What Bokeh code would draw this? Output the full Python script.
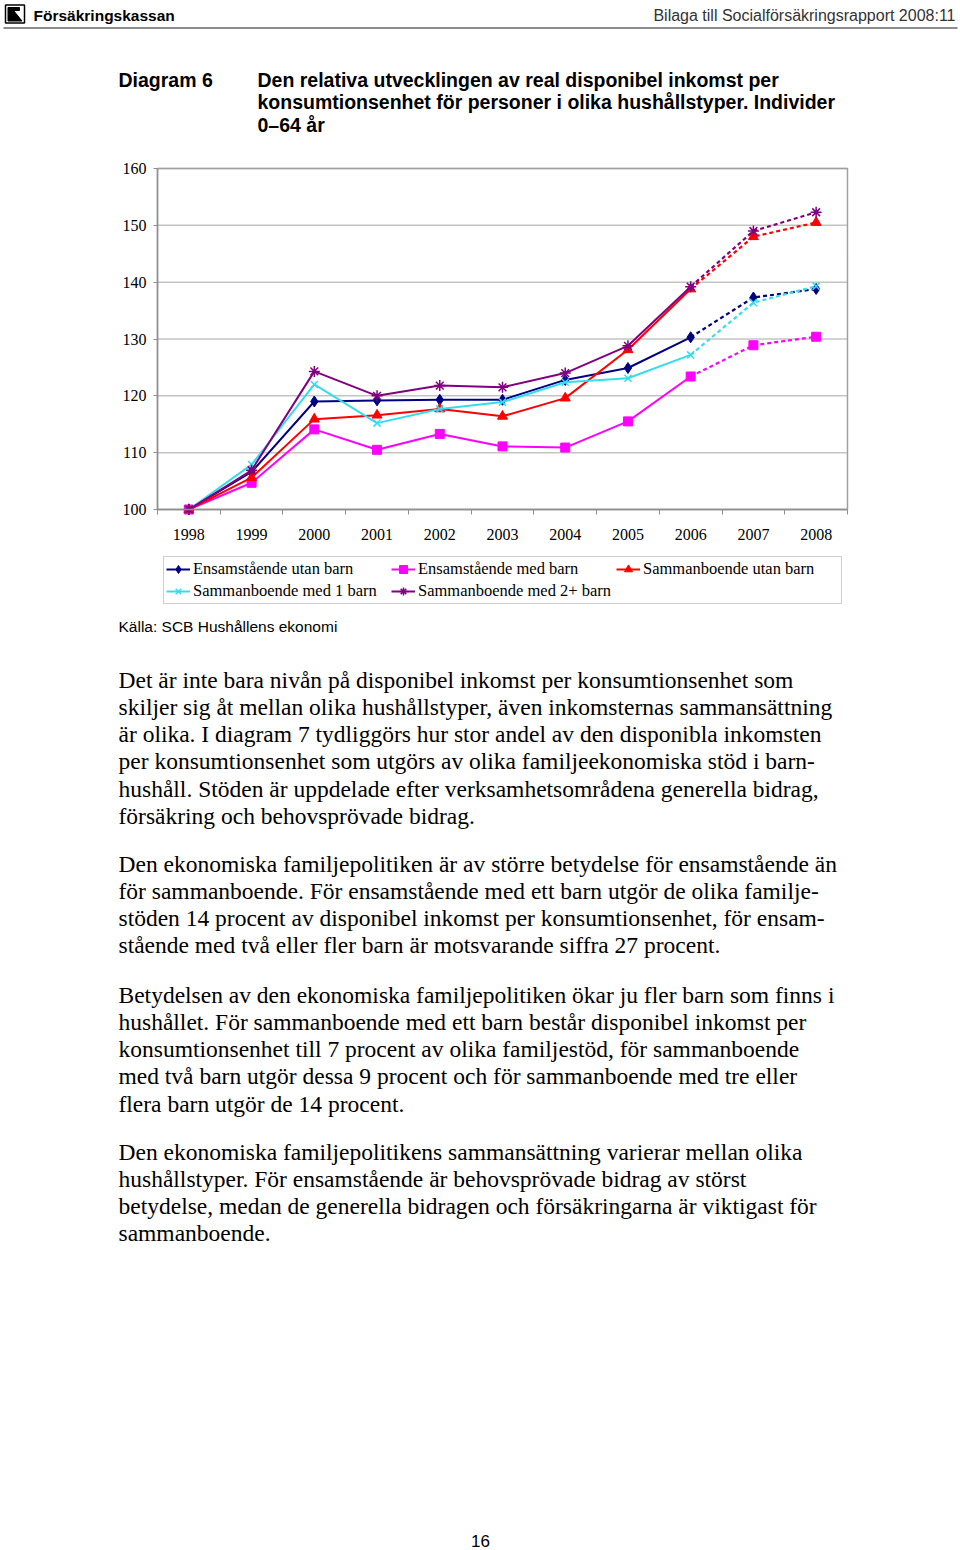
from bokeh.plotting import figure
from bokeh.models import Range1d, FixedTicker, Legend, LegendItem, LinearAxis
from bokeh.embed import file_html
from bokeh.resources import INLINE
from bokeh.core.properties import value

# ---------------- data ----------------
years = [1998, 1999, 2000, 2001, 2002, 2003, 2004, 2005, 2006, 2007, 2008]
ens_utan_barn = [100, 106.6, 119.0, 119.2, 119.3, 119.3, 122.8, 124.9, 130.3, 137.3, 138.8]
ens_med_barn = [100, 104.7, 114.1, 110.5, 113.3, 111.1, 110.9, 115.5, 123.4, 128.9, 130.4]
samm_utan_barn = [100, 105.6, 115.9, 116.6, 117.7, 116.4, 119.6, 128.1, 138.8, 148.0, 150.5]
samm_1_barn = [100, 107.9, 122.0, 115.2, 117.7, 118.9, 122.4, 123.1, 127.2, 136.4, 139.3]
samm_2_barn = [100, 106.9, 124.3, 120.0, 121.8, 121.5, 124.0, 128.8, 139.2, 149.0, 152.3]
series_names = ["Ensamstående utan barn", "Ensamstående med barn", "Sammanboende utan barn",
                "Sammanboende med 1 barn", "Sammanboende med 2+ barn"]
y_ticks = [100, 110, 120, 130, 140, 150, 160]
last_observed_year = 2006

header_left = "Försäkringskassan"
header_right = "Bilaga till Socialförsäkringsrapport 2008:11"
diagram_label = "Diagram 6"
title_lines = ["Den relativa utvecklingen av real disponibel inkomst per",
               "konsumtionsenhet för personer i olika hushållstyper. Individer",
               "0–64 år"]
source_text = "Källa: SCB Hushållens ekonomi"
paragraphs = [
    ["Det är inte bara nivån på disponibel inkomst per konsumtionsenhet som",
     "skiljer sig åt mellan olika hushållstyper, även inkomsternas sammansättning",
     "är olika. I diagram 7 tydliggörs hur stor andel av den disponibla inkomsten",
     "per konsumtionsenhet som utgörs av olika familjeekonomiska stöd i barn-",
     "hushåll. Stöden är uppdelade efter verksamhetsområdena generella bidrag,",
     "försäkring och behovsprövade bidrag."],
    ["Den ekonomiska familjepolitiken är av större betydelse för ensamstående än",
     "för sammanboende. För ensamstående med ett barn utgör de olika familje-",
     "stöden 14 procent av disponibel inkomst per konsumtionsenhet, för ensam-",
     "stående med två eller fler barn är motsvarande siffra 27 procent."],
    ["Betydelsen av den ekonomiska familjepolitiken ökar ju fler barn som finns i",
     "hushållet. För sammanboende med ett barn består disponibel inkomst per",
     "konsumtionsenhet till 7 procent av olika familjestöd, för sammanboende",
     "med två barn utgör dessa 9 procent och för sammanboende med tre eller",
     "flera barn utgör de 14 procent."],
    ["Den ekonomiska familjepolitikens sammansättning varierar mellan olika",
     "hushållstyper. För ensamstående är behovsprövade bidrag av störst",
     "betydelse, medan de generella bidragen och försäkringarna är viktigast för",
     "sammanboende."],
]
page_number = "16"

SANS = value("Liberation Sans")
SERIF = value("Liberation Serif")
W, H = 960, 1550

# chart area on the page (pixels)
CL, CR, CT, CB = 157, 847, 168, 509

p = figure(width=W, height=H, x_range=Range1d(0, W), y_range=Range1d(H, 0),
           x_axis_type=None, y_axis_type=None, min_border=0, title=None,
           output_backend="svg", toolbar_location=None)
p.outline_line_color = None
p.background_fill_color = "white"
p.border_fill_color = "white"

# data ranges mapped onto the chart area
x0, x1 = years[0] - 0.5, years[-1] + 0.5
sx = (x1 - x0) / (CR - CL)
y0, y1 = y_ticks[0], y_ticks[-1]
sy = (y1 - y0) / (CB - CT)
p.extra_x_ranges = {"yr": Range1d(x0 - CL * sx, x1 + (W - CR) * sx)}
p.extra_y_ranges = {"val": Range1d(y0 - (H - CB) * sy, y1 + CT * sy)}
R = dict(x_range_name="yr", y_range_name="val")

# ---------------- page texts ----------------
p.quad(left=[5], right=[24], top=[4.5], bottom=[22.5], fill_color="white", line_color="black", line_width=1.5)
p.patch([7.5, 19, 19, 13, 21.5, 7.5], [7, 7, 10, 10, 20.5, 20.5], fill_color="black", line_color="black")
p.text(x=[33], y=[15], text=[header_left], text_font=SANS, text_font_style="bold",
       text_font_size=value("15.5px"), text_baseline="middle", text_color="black")
p.text(x=[955], y=[15], text=[header_right], text_font=SANS,
       text_font_size=value("16px"), text_baseline="middle", text_align="right", text_color="#333333")
p.line(x=[3, 957], y=[27.5, 27.5], line_color="#8c8c8c", line_width=2)
p.text(x=[118], y=[79], text=[diagram_label], text_font=SANS, text_font_style="bold",
       text_font_size=value("19.5px"), text_baseline="middle", text_color="black")
p.text(x=[257] * len(title_lines), y=[79 + 22.5 * i for i in range(len(title_lines))], text=title_lines,
       text_font=SANS, text_font_style="bold", text_font_size=value("19.5px"),
       text_baseline="middle", text_color="black")
p.text(x=[118], y=[626], text=[source_text], text_font=SANS, text_font_size=value("15.5px"),
       text_baseline="middle", text_color="black")
para_starts = [679, 863, 994, 1151]
line_gap = 27.3
xs, ys, txt = [], [], []
for start, lines in zip(para_starts, paragraphs):
    for i, ln in enumerate(lines):
        xs.append(118)
        ys.append(start + line_gap * i)
        txt.append(ln)
p.text(x=xs, y=ys, text=txt, text_font=SERIF, text_font_size=value("23.5px"),
       text_baseline="middle", text_color="black")
p.text(x=[480], y=[1540], text=[page_number], text_font=SANS, text_font_size=value("17px"),
       text_baseline="middle", text_align="center", text_color="black")

# ---------------- chart ----------------
n = len(y_ticks)
p.segment(x0=[x0] * n, x1=[x1] * n, y0=y_ticks, y1=y_ticks, line_color="#c4c4c4", line_width=1.5, **R)
p.quad(left=[x0], right=[x1], bottom=[y0], top=[y1], fill_color=None, line_color="#a0a0a0",
       line_width=1.5, **R)

boundaries = [y - 0.5 for y in years] + [years[-1] + 0.5]
xax = LinearAxis(fixed_location=y0, bounds=(x0, x1), ticker=FixedTicker(ticks=years, minor_ticks=boundaries), **R)
xax.major_tick_out = 0
xax.major_tick_in = 0
xax.minor_tick_out = 5
xax.minor_tick_in = 0
xax.minor_tick_line_color = "#909090"
xax.major_label_standoff = 14
yax = LinearAxis(fixed_location=x0, bounds=(y0, y1), ticker=FixedTicker(ticks=y_ticks), **R)
yax.major_tick_out = 4
yax.major_tick_in = 0
yax.minor_tick_line_color = None
yax.major_label_standoff = 7
for ax in (xax, yax):
    ax.axis_line_color = "#909090"
    ax.axis_line_width = 1.5
    ax.major_tick_line_color = "#909090"
    ax.major_label_text_font = "Liberation Serif"
    ax.major_label_text_font_size = "16px"
    ax.major_label_text_color = "black"
p.add_layout(xax, "below")
p.add_layout(yax, "left")

styles = [
    ("#000080", "diamond", 11, 1),
    ("#FF00FF", "square", 9, 1),
    ("#FF0000", "triangle", 10, 1),
    ("#33DDEE", "x", 10, 1.5),
    ("#800080", "asterisk", 11, 1.5),
]
all_series = [ens_utan_barn, ens_med_barn, samm_utan_barn, samm_1_barn, samm_2_barn]
k = years.index(last_observed_year)
items = []
for name, vals, (col, mk, sz, lw) in zip(series_names, all_series, styles):
    solid = p.line(years[:k + 1], vals[:k + 1], line_color=col, line_width=2, **R)
    p.line(years[k:], vals[k:], line_color=col, line_width=2.2, line_dash="4 3", **R)
    sc = p.scatter(years, vals, marker=mk, size=sz, fill_color=col, line_color=col, line_width=lw, **R)
    items.append(LegendItem(label=name, renderers=[solid, sc]))

legend = Legend(items=items, location=(163, H - 604), orientation="horizontal", ncols=3,
                glyph_width=24, glyph_height=20, label_height=20, label_width=196,
                label_standoff=3, spacing=2, padding=2, margin=0,
                border_line_color="#a0a0a0", border_line_width=1.2,
                background_fill_color="white", background_fill_alpha=1.0,
                label_text_font="Liberation Serif", label_text_font_size="16.5px",
                label_text_color="black")
p.add_layout(legend)

open("out.html", "w").write(file_html(p, INLINE))
